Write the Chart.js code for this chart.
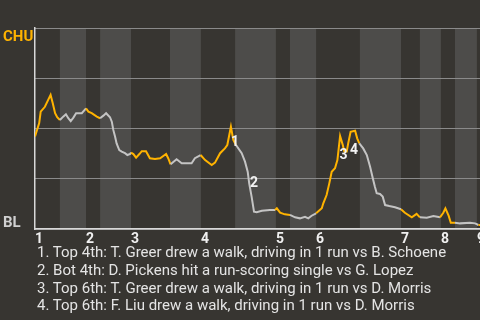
<!DOCTYPE html>
<html>
<head>
<meta charset="utf-8">
<script src="https://cdn.jsdelivr.net/npm/chart.js@4/dist/chart.umd.min.js"></script>
<style>
  html, body { margin: 0; padding: 0; background: #373531; overflow: hidden; width: 480px; height: 320px; }
  #wrap { position: absolute; left: 0; top: 0; width: 500px; height: 250px; }
  #notes { position: absolute; left: 37px; top: 244px; font: 15px Roboto, sans-serif; line-height: 17.8px; color: #e4e4e4; white-space: nowrap; }
</style>
</head>
<body>
<div id="wrap"><canvas id="canvas" width="500" height="250"></canvas></div>
<div id="notes"></div>
<script>
// half innings: even index = top (CHU bats), odd = bottom (BL bats)
const halfInningStarts = [0, 8.3, 17, 21.7, 32, 45, 55.3, 66.7, 80.3, 85, 93.7, 108.3, 122, 128.3, 135.3, 140, 147.3];
const innings = ["1", "2", "3", "4", "5", "6", "7", "8", "9"];

// win probability for CHU (%) along the game
const eventX = [0, 1.4, 1.9, 3.3, 5.2, 5.9, 6.7, 7.4, 8.3, 9.4, 10.3, 11.1, 11.9, 12.8, 13.7, 15.6,
  17, 17.8, 18.9, 20.6, 21.7, 22.8, 23.7, 25, 25.6, 26.1, 26.7, 27.2, 28.1, 28.9, 30, 30.8, 31.7,
  32, 32.8, 33.7, 34.8, 35.6, 37, 38.3, 40, 41.7, 43.7, 44.4, 45.2, 47.2, 48.9, 52.2, 53.3, 55.2,
  56.7, 58.9, 60, 61.7, 63.3, 64.1, 65.3, 66.1, 67, 68.9, 70, 70.9, 71.4, 72.2, 73, 73.9, 75.6,
  78.3, 80, 80.6, 81.7, 83.3, 85, 86.7, 88.3, 90, 91.1, 92.2, 93.7, 95.6, 96.1, 97.2, 98.1, 98.9,
  100, 100.8, 101.7, 102.6, 103.1, 103.9, 104.4, 105.2, 106.7, 107.4, 108.1, 109.4, 110.6, 111.7,
  112.6, 113.3, 113.9, 115, 115.9, 116.7, 118.1, 120, 122, 123.3, 125.6, 127.2, 128.3, 130.6,
  132.8, 135, 136.1, 136.8, 137.9, 138.6, 140, 141.7, 145, 146.7, 147.8, 155];
const winPct = [46, 52.7, 58.4, 60.8, 66.7, 62.7, 57.6, 55.6, 54.2, 55.9, 57.1, 55.1, 53.7, 55.4, 57.6, 57.6,
  60, 58.4, 57.6, 55.9, 55.1, 56.4, 57.6, 55.6, 53.4, 49.3, 45.9, 42.6, 39.3, 38.5, 37.7, 36.8, 37.3,
  38, 37.3, 35.5, 37.3, 38.7, 38.7, 35.2, 34.8, 35.2, 37.3, 35.2, 32.2, 34.7, 32.7, 32.7, 35.2, 36.8,
  34.3, 31.8, 33, 37.7, 40.1, 41.8, 50.9, 44.3, 41.8, 37.7, 33.5, 28.5, 22.7, 16.1, 8.6, 8.3, 9.1,
  9.5, 9.5, 10.3, 8.1, 7.3, 7, 5.8, 5.3, 6.1, 5.3, 6.6, 7.8, 10.3, 12.8, 16.9, 22.7, 28.5,
  30.2, 34.3, 46.3, 41.8, 38.5, 38.5, 42.6, 48.4, 48.9, 45.1, 42.6, 40.1, 36.8, 31,
  25.2, 21, 17.8, 17.4, 16.1, 11.9, 11.4, 10.8, 9.8, 8.1, 5.8, 7.5, 5.8, 5.6,
  6.5, 5.8, 8.1, 10.3, 6.5, 3.1, 3.1, 2.8, 3.1, 2.8, 2, 2];

// scoring plays
const markerX = [66.7, 73, 102.8, 106.3];
const markerY = [42.8, 22.4, 36.8, 39.3];
const markerText = ["1", "2", "3", "4"];
const notes = [
  "1. Top 4th: T. Greer drew a walk, driving in 1 run vs B. Schoene",
  "2. Bot 4th: D. Pickens hit a run-scoring single vs G. Lopez",
  "3. Top 6th: T. Greer drew a walk, driving in 1 run vs D. Morris",
  "4. Top 6th: F. Liu drew a walk, driving in 1 run vs D. Morris",
];

const ORANGE = "#ffb300";
const GREY = "#c4c4c4";

function halfIndex(x) {
  let idx = 0;
  for (let i = 0; i < halfInningStarts.length; i++) {
    if (x >= halfInningStarts[i]) idx = i;
  }
  return idx;
}

const inningTicks = halfInningStarts.filter((v, i) => i % 2 == 0);

const bands = {
  id: "bands",
  beforeDraw(chart) {
    const { ctx, chartArea, scales } = chart;
    ctx.save();
    ctx.fillStyle = "#4d4c4a";
    for (let i = 1; i < halfInningStarts.length; i += 2) {
      const x1 = scales.x.getPixelForValue(halfInningStarts[i]);
      const end = i + 1 < halfInningStarts.length ? halfInningStarts[i + 1] : scales.x.max;
      const x2 = scales.x.getPixelForValue(end);
      ctx.fillRect(x1, chartArea.top, x2 - x1, chartArea.bottom - chartArea.top);
    }
    ctx.restore();
  },
};

const markers = {
  id: "markers",
  afterDatasetsDraw(chart) {
    const { ctx, scales } = chart;
    ctx.save();
    ctx.font = "bold 14px Roboto, sans-serif";
    ctx.fillStyle = "#f2f2f2";
    ctx.textAlign = "center";
    ctx.textBaseline = "middle";
    markerText.forEach((t, i) => {
      ctx.fillText(t, scales.x.getPixelForValue(markerX[i]), scales.y.getPixelForValue(markerY[i]));
    });
    ctx.restore();
  },
};

const canvas = document.querySelector("#canvas");
const chart = new Chart(canvas, {
  type: "line",
  data: {
    datasets: [
      {
        data: eventX.map((x, i) => ({ x: x, y: winPct[i] })),
        borderWidth: 2,
        pointRadius: 0,
        tension: 0,
        borderColor: ORANGE,
        segment: {
          borderColor: (ctx) => halfIndex((ctx.p0.parsed.x + ctx.p1.parsed.x) / 2) % 2 == 0 ? ORANGE : GREY,
        },
      },
    ],
  },
  options: {
    responsive: false,
    devicePixelRatio: 1,
    animation: false,
    layout: { padding: { top: 28, left: 3, right: 0, bottom: 0 } },
    plugins: { legend: { display: false }, tooltip: { enabled: false } },
    scales: {
      x: {
        type: "linear",
        min: 0,
        max: 155,
        afterBuildTicks: (scale) => { scale.ticks = inningTicks.map((v) => ({ value: v })); },
        afterFit: (scale) => { scale.height = 21; },
        grid: { display: false, drawTicks: false },
        border: { display: true, color: "#d8d8d8", width: 1.5 },
        ticks: {
          align: "start",
          padding: 2,
          maxRotation: 0,
          autoSkip: false,
          color: "#f0f0f0",
          font: { family: "Roboto", size: 14, weight: "bold" },
          callback: (value, index) => innings[index],
        },
      },
      y: {
        min: 0,
        max: 100,
        position: "left",
        afterBuildTicks: (scale) => { scale.ticks = [0, 25, 50, 75, 100].map((v) => ({ value: v })); },
        afterFit: (scale) => { scale.width = 0; },
        grid: { color: "#8a8a8a", lineWidth: 1, drawTicks: false },
        border: { display: false },
        ticks: { display: false },
      },
      yl: {
        min: 0,
        max: 100,
        position: "left",
        afterBuildTicks: (scale) => { scale.ticks = [{ value: 3 }, { value: 95.6 }]; },
        afterFit: (scale) => { scale.width = 32; },
        grid: { display: false, drawTicks: false },
        border: { display: true, color: "#d8d8d8", width: 1.5 },
        ticks: {
          crossAlign: "far",
          padding: 0,
          color: (ctx) => ctx.tick.value > 50 ? ORANGE : "#d0d0d0",
          font: { family: "Roboto", size: 15, weight: "bold" },
          callback: (value) => value > 50 ? "CHU" : "BL",
        },
      },
    },
  },
  plugins: [bands, markers],
});

document.getElementById("notes").innerHTML = notes.map((n) => "<div>" + n + "</div>").join("");
</script>
</body>
</html>
